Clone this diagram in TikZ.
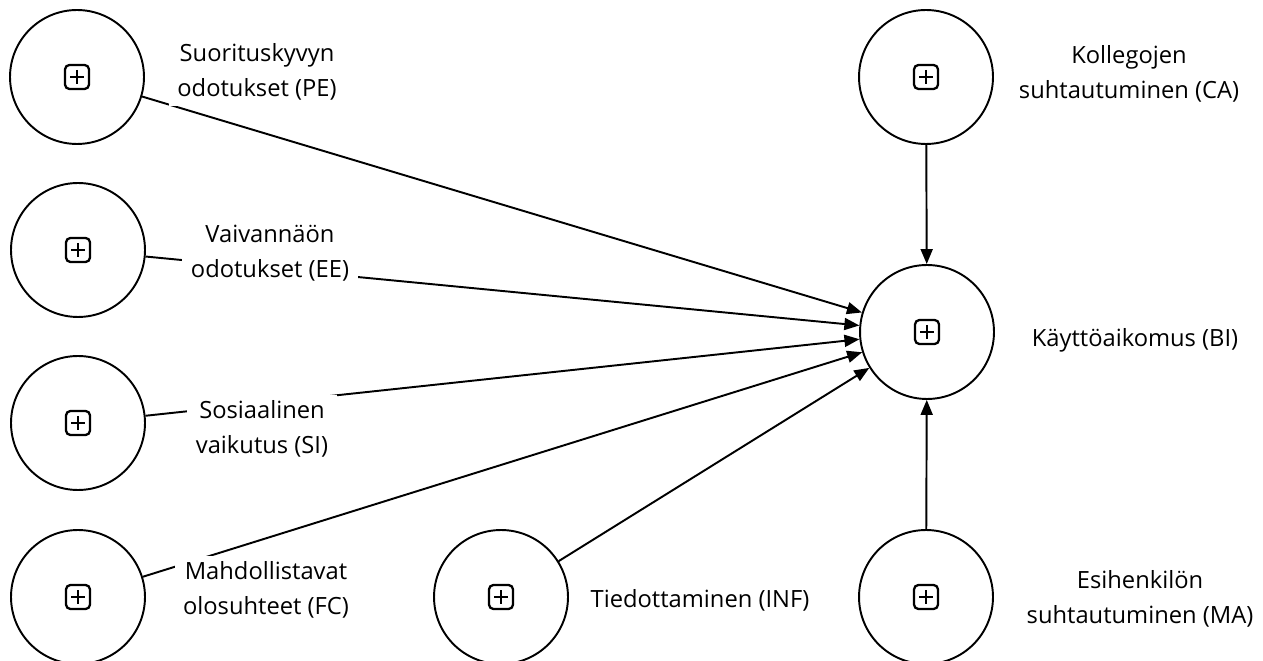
\documentclass[tikz,border=0pt]{standalone}
\usepackage{fontspec}
\setmainfont{Open Sans}
\usetikzlibrary{arrows.meta}

\begin{document}
\begin{tikzpicture}[x=0.02cm,y=-0.02cm,>={Triangle[length=0.3cm,width=0.24cm]},
  lv/.style={draw,circle,minimum size=2.68cm,inner sep=0pt,line width=1.1pt},
  lnk/.style={draw,->,line width=1.1pt},
  lbl/.style={fill=white,align=center,inner xsep=0.17cm,inner ysep=0.12cm,
    font=\fontsize{13.5}{20}\selectfont,
    execute at begin node={\rule{0pt}{13.8pt}}},
  plusbox/.pic={
    \draw[line width=1.3pt,rounded corners=2.5pt] (-12,-12) rectangle (12,12);
    \draw[line width=1.3pt] (-7,0) -- (7,0) (0,-7) -- (0,7);}]
\useasboundingbox (0,0) rectangle (1263,661);
\node[lv] (pe) at (77,77) {};
\node[lv] (ee) at (78,250) {};
\node[lv] (si) at (78,423) {};
\node[lv] (fc) at (78,597) {};
\node[lv] (inf) at (501,597) {};
\node[lv] (bi) at (927,332) {};
\node[lv] (ca) at (926,77) {};
\node[lv] (ma) at (926,597) {};
\foreach \n in {pe,ee,si,fc,inf,bi,ca,ma}
  \pic at (\n) {plusbox};
\draw[lnk] (pe) -- (bi);
\draw[lnk] (ee) -- (bi);
\draw[lnk] (si) -- (bi);
\draw[lnk] (fc) -- (bi);
\draw[lnk] (inf) -- (bi);
\draw[lnk] (ca) -- (bi);
\draw[lnk] (ma) -- (bi);
\node[lbl] (pelbl) at (257,72) {Suorituskyvyn\\odotukset (PE)};
\node[lbl] (eelbl) at (270,253) {Vaivannäön\\odotukset (EE)};
\node[lbl] (silbl) at (262,429) {Sosiaalinen\\vaikutus (SI)};
\node[lbl] (fclbl) at (266,590) {Mahdollistavat\\olosuhteet (FC)};
\node[lbl] (inflbl) at (700,597) {Tiedottaminen (INF)};
\node[lbl] (bilbl) at (1135,337) {Käyttöaikomus (BI)};
\node[lbl] (calbl) at (1129,74) {Kollegojen\\suhtautuminen (CA)};
\node[lbl] (malbl) at (1140,599) {Esihenkilön\\suhtautuminen (MA)};
\end{tikzpicture}
\end{document}
